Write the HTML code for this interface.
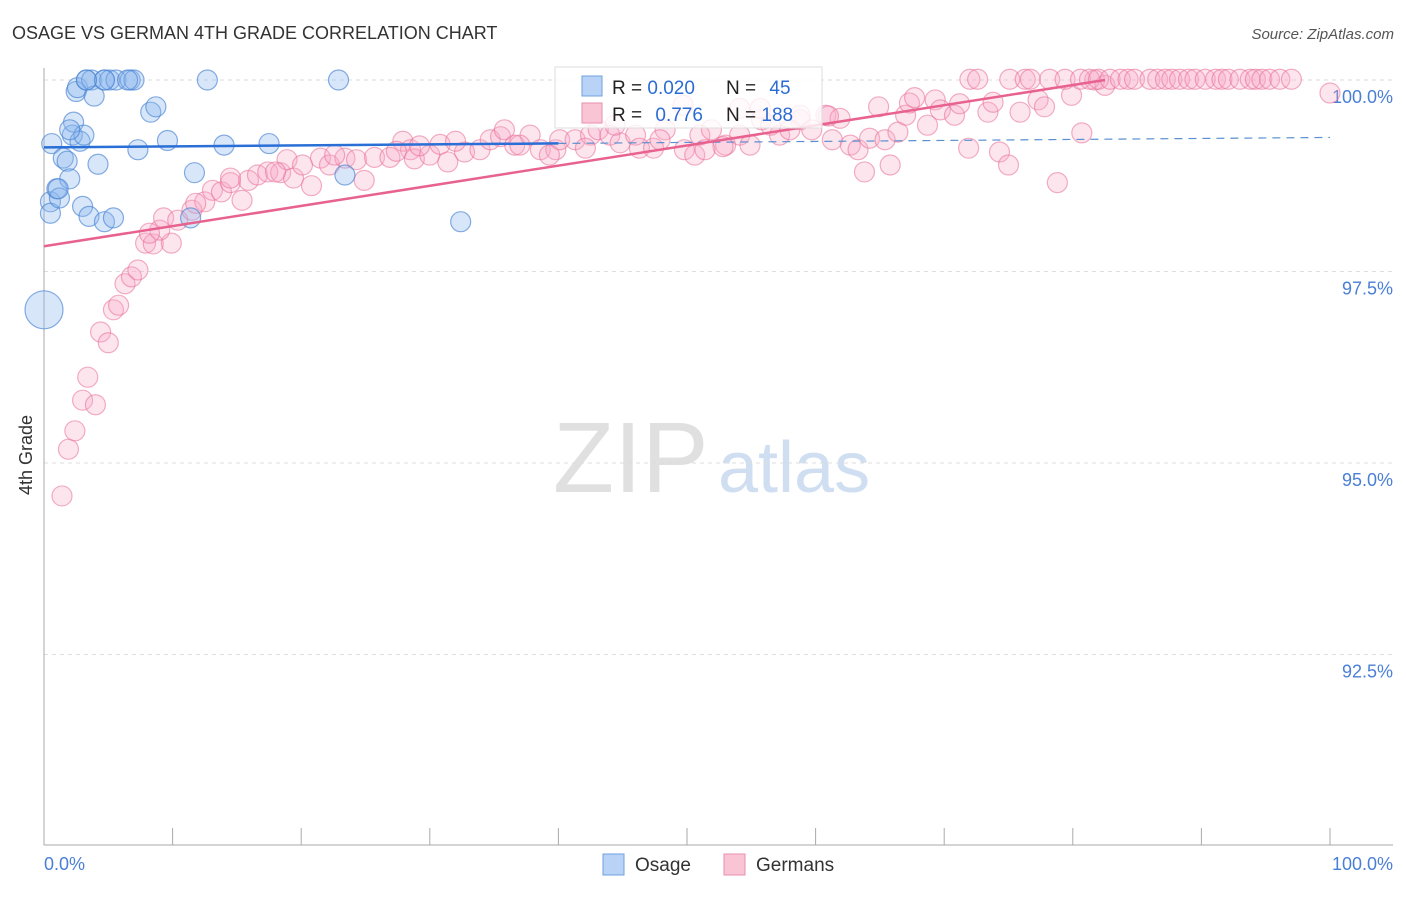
<!DOCTYPE html>
<html><head><meta charset="utf-8"><style>
body{margin:0;background:#fff;font-family:"Liberation Sans",sans-serif}
svg text{font-family:"Liberation Sans",sans-serif}
</style></head><body>
<svg id="c" width="1406" height="892">
<text x="12" y="39" font-size="18" fill="#333">OSAGE VS GERMAN 4TH GRADE CORRELATION CHART</text>
<text x="1394" y="39" font-size="15" fill="#555" text-anchor="end" font-style="italic">Source: ZipAtlas.com</text>
<text x="32" y="455" font-size="18" fill="#333" transform="rotate(-90 32 455)" text-anchor="middle">4th Grade</text>
<g><text x="553" y="492" font-size="100" fill="#e0e0e0" font-family="Liberation Serif">ZIP</text><text x="718" y="492" font-size="72" fill="#d0def2">atlas</text></g>
<g id="grid"></g><g id="pts"></g><g id="lines"></g>
<g>
<rect x="555" y="67" width="267" height="61" fill="#fff" fill-opacity="0.8" stroke="#ddd"/>
<rect x="582" y="76" width="20" height="20" fill="#b8d3f5" stroke="#6fa0e0"/>
<rect x="582" y="103" width="20" height="20" fill="#f9c5d5" stroke="#ea8fae"/>
<text x="612" y="94" font-size="19" fill="#222">R = <tspan fill="#2b6cd4">0.020</tspan></text>
<text x="726" y="94" font-size="19" fill="#222">N = <tspan fill="#2b6cd4" dx="8">45</tspan></text>
<text x="612" y="121" font-size="19" fill="#222">R = <tspan fill="#2b6cd4" dx="8">0.776</tspan></text>
<text x="726" y="121" font-size="19" fill="#222">N = <tspan fill="#2b6cd4">188</tspan></text>
</g>
<g>
<rect x="603" y="854" width="21" height="21" fill="#b8d3f5" stroke="#6fa0e0"/>
<text x="635" y="871" font-size="19" fill="#333">Osage</text>
<rect x="724" y="854" width="21" height="21" fill="#f9c5d5" stroke="#ea8fae"/>
<text x="756" y="871" font-size="19" fill="#333">Germans</text>
</g>
</svg>
<script>
const yTicks=[100,97.5,95,92.5];
const yTickLabels=["100.0%","97.5%","95.0%","92.5%"];
const xTickLabels=["0.0%","100.0%"];
const osageX=[0.6,0.5,0.5,1.0,1.2,1.5,1.8,2.0,2.2,2.3,2.5,2.6,2.8,3.0,3.1,3.3,3.5,3.7,3.9,4.2,4.7,4.7,5.1,5.4,5.6,6.7,7.0,7.3,8.3,8.7,9.6,11.4,11.7,12.7,14.0,17.5,22.9,23.4,32.4,1.1,4.7,3.3,6.5,2.0,0];
const osageY=[99.17,98.41,98.26,98.58,98.46,98.98,98.94,98.71,99.28,99.45,99.85,99.90,99.20,98.35,99.28,100,98.22,100,99.79,98.90,98.15,100,100,98.20,100,100,100,99.09,99.58,99.65,99.21,98.20,98.79,100,99.15,99.17,100,98.76,98.15,98.58,100,100,100,99.35,97.0];
const osageR=[10,10,10,10,10,10,10,10,10,10,10,10,10,10,10,10,10,10,10,10,10,10,10,10,10,10,10,10,10,10,10,10,10,10,10,10,10,10,10,10,10,10,10,10,19];
const gerPx=[[62,496],[68,449],[75,431],[82,400],[95,405],[88,377],[100,332],[108,343],[114,310],[119,305],[125,284],[132,277],[138,270],[146,243],[153,244],[171,243],[160,230],[150,233],[163,218],[178,220],[192,210],[205,202],[196,203],[212,190],[222,192],[242,200],[230,183],[248,180],[258,175],[268,172],[281,173],[287,160],[293,178],[312,186],[303,165],[320,158],[330,165],[345,158],[364,180],[357,160],[375,157],[390,157],[403,141],[410,150],[415,159],[430,155],[440,144],[448,162],[465,152],[480,150],[490,140],[500,137],[515,145],[530,135],[540,150],[556,150],[560,140],[575,140],[590,135],[598,130],[610,135],[620,143],[635,135],[640,148],[653,148],[665,130],[685,150],[695,155],[700,135],[712,130],[725,145],[740,135],[750,145],[762,120],[780,135],[800,120],[812,130],[826,115],[832,140],[840,118],[850,145],[858,150],[865,172],[870,138],[878,107],[885,140],[890,165],[898,132],[905,115],[910,103],[915,98],[928,125],[935,100],[940,110],[955,115],[960,104],[968,148],[988,112],[993,102],[1000,152],[1008,165],[1020,112],[1038,100],[1045,107],[1057,183],[1072,95],[1082,133],[1095,80],[1105,85],[1330,93],[740,108],[800,115],[828,116],[760,108],[790,130],[723,147],[683,105],[970,79],[978,79],[1010,79],[1025,79],[1030,79],[1050,79],[1065,79],[1080,79],[1090,79],[1098,79],[1110,79],[1120,79],[1128,79],[1135,79],[1150,79],[1158,79],[1165,79],[1172,79],[1180,79],[1188,79],[1195,79],[1205,79],[1215,79],[1222,79],[1228,79],[1240,79],[1250,79],[1255,79],[1262,79],[1270,79],[1280,79],[1292,79],[396,151],[455,141],[505,130],[585,148],[615,125],[660,140],[705,150],[770,125],[230,178],[275,172],[335,155],[420,146],[520,145],[550,155]];
const gerX=gerPx.map(p=>+((p[0]-44)/12.86).toFixed(1));
const gerY=gerPx.map(p=>+(100-(p[1]-80)/76.6).toFixed(2));
const osageTrend=[0,99.12,100,99.25];
const gerTrend=[0,97.83,82.5,100];
const X0=44,X1=1330,Y100=80,PX=76.6;
const sx=v=>X0+v*(X1-X0)/100, sy=v=>Y100+(100-v)*PX;
const NS="http://www.w3.org/2000/svg";
function mk(t,a,p){const e=document.createElementNS(NS,t);for(const k in a)e.setAttribute(k,a[k]);p.appendChild(e);return e;}
const grid=document.getElementById('grid');
yTicks.forEach((v,i)=>{const l=mk('line',{x1:44,x2:1393,y1:sy(v),y2:sy(v),stroke:'#ddd','stroke-dasharray':'4,4'},grid);


const t=mk('text',{x:1393,y:sy(v)+23,'font-size':18,fill:'#4a7fd6','text-anchor':'end'},grid);t.textContent=yTickLabels[i];

});
const ax=mk('line',{x1:44,x2:44,y1:68,y2:845,stroke:'#aaa'},grid);


const bx=mk('line',{x1:44,x2:1393,y1:845,y2:845,stroke:'#aaa'},grid);


for(let i=0;i<=10;i++){const tk=mk('line',{x1:sx(i*10),x2:sx(i*10),y1:828,y2:845,stroke:'#aaa'},grid);

}
[[0,'start',44],[100,'end',1393]].forEach((d,i)=>{const t=mk('text',{x:d[2],y:870,'font-size':18,fill:'#4a7fd6','text-anchor':d[1]},grid);t.textContent=xTickLabels[i];

});
const pts=document.getElementById('pts');
gerX.forEach((x,i)=>{const c=mk('circle',{cx:sx(x),cy:sy(gerY[i]),r:10,fill:'rgba(247,170,198,0.3)',stroke:'rgba(232,110,150,0.55)','stroke-width':1.2},pts);

});
osageX.forEach((x,i)=>{const c=mk('circle',{cx:sx(x),cy:sy(osageY[i]),r:osageR[i],fill:'rgba(140,182,238,0.35)',stroke:'rgba(70,130,210,0.65)','stroke-width':1.2},pts);

});
const ln=document.getElementById('lines');
const oy=x=>osageTrend[1]+(osageTrend[3]-osageTrend[1])*(x-osageTrend[0])/(osageTrend[2]-osageTrend[0]);
const l1=mk('line',{x1:sx(0),y1:sy(oy(0)),x2:sx(40),y2:sy(oy(40)),stroke:'#2a6fd6','stroke-width':2.5},ln);


const l2=mk('line',{x1:sx(40),y1:sy(oy(40)),x2:sx(100),y2:sy(oy(100)),stroke:'#5b8fd0','stroke-width':1.2,'stroke-dasharray':'8,6'},ln);


const l3=mk('line',{x1:sx(gerTrend[0]),y1:sy(gerTrend[1]),x2:sx(gerTrend[2]),y2:sy(gerTrend[3]),stroke:'#e8628f','stroke-width':2.5},ln);


</script>
</body></html>
